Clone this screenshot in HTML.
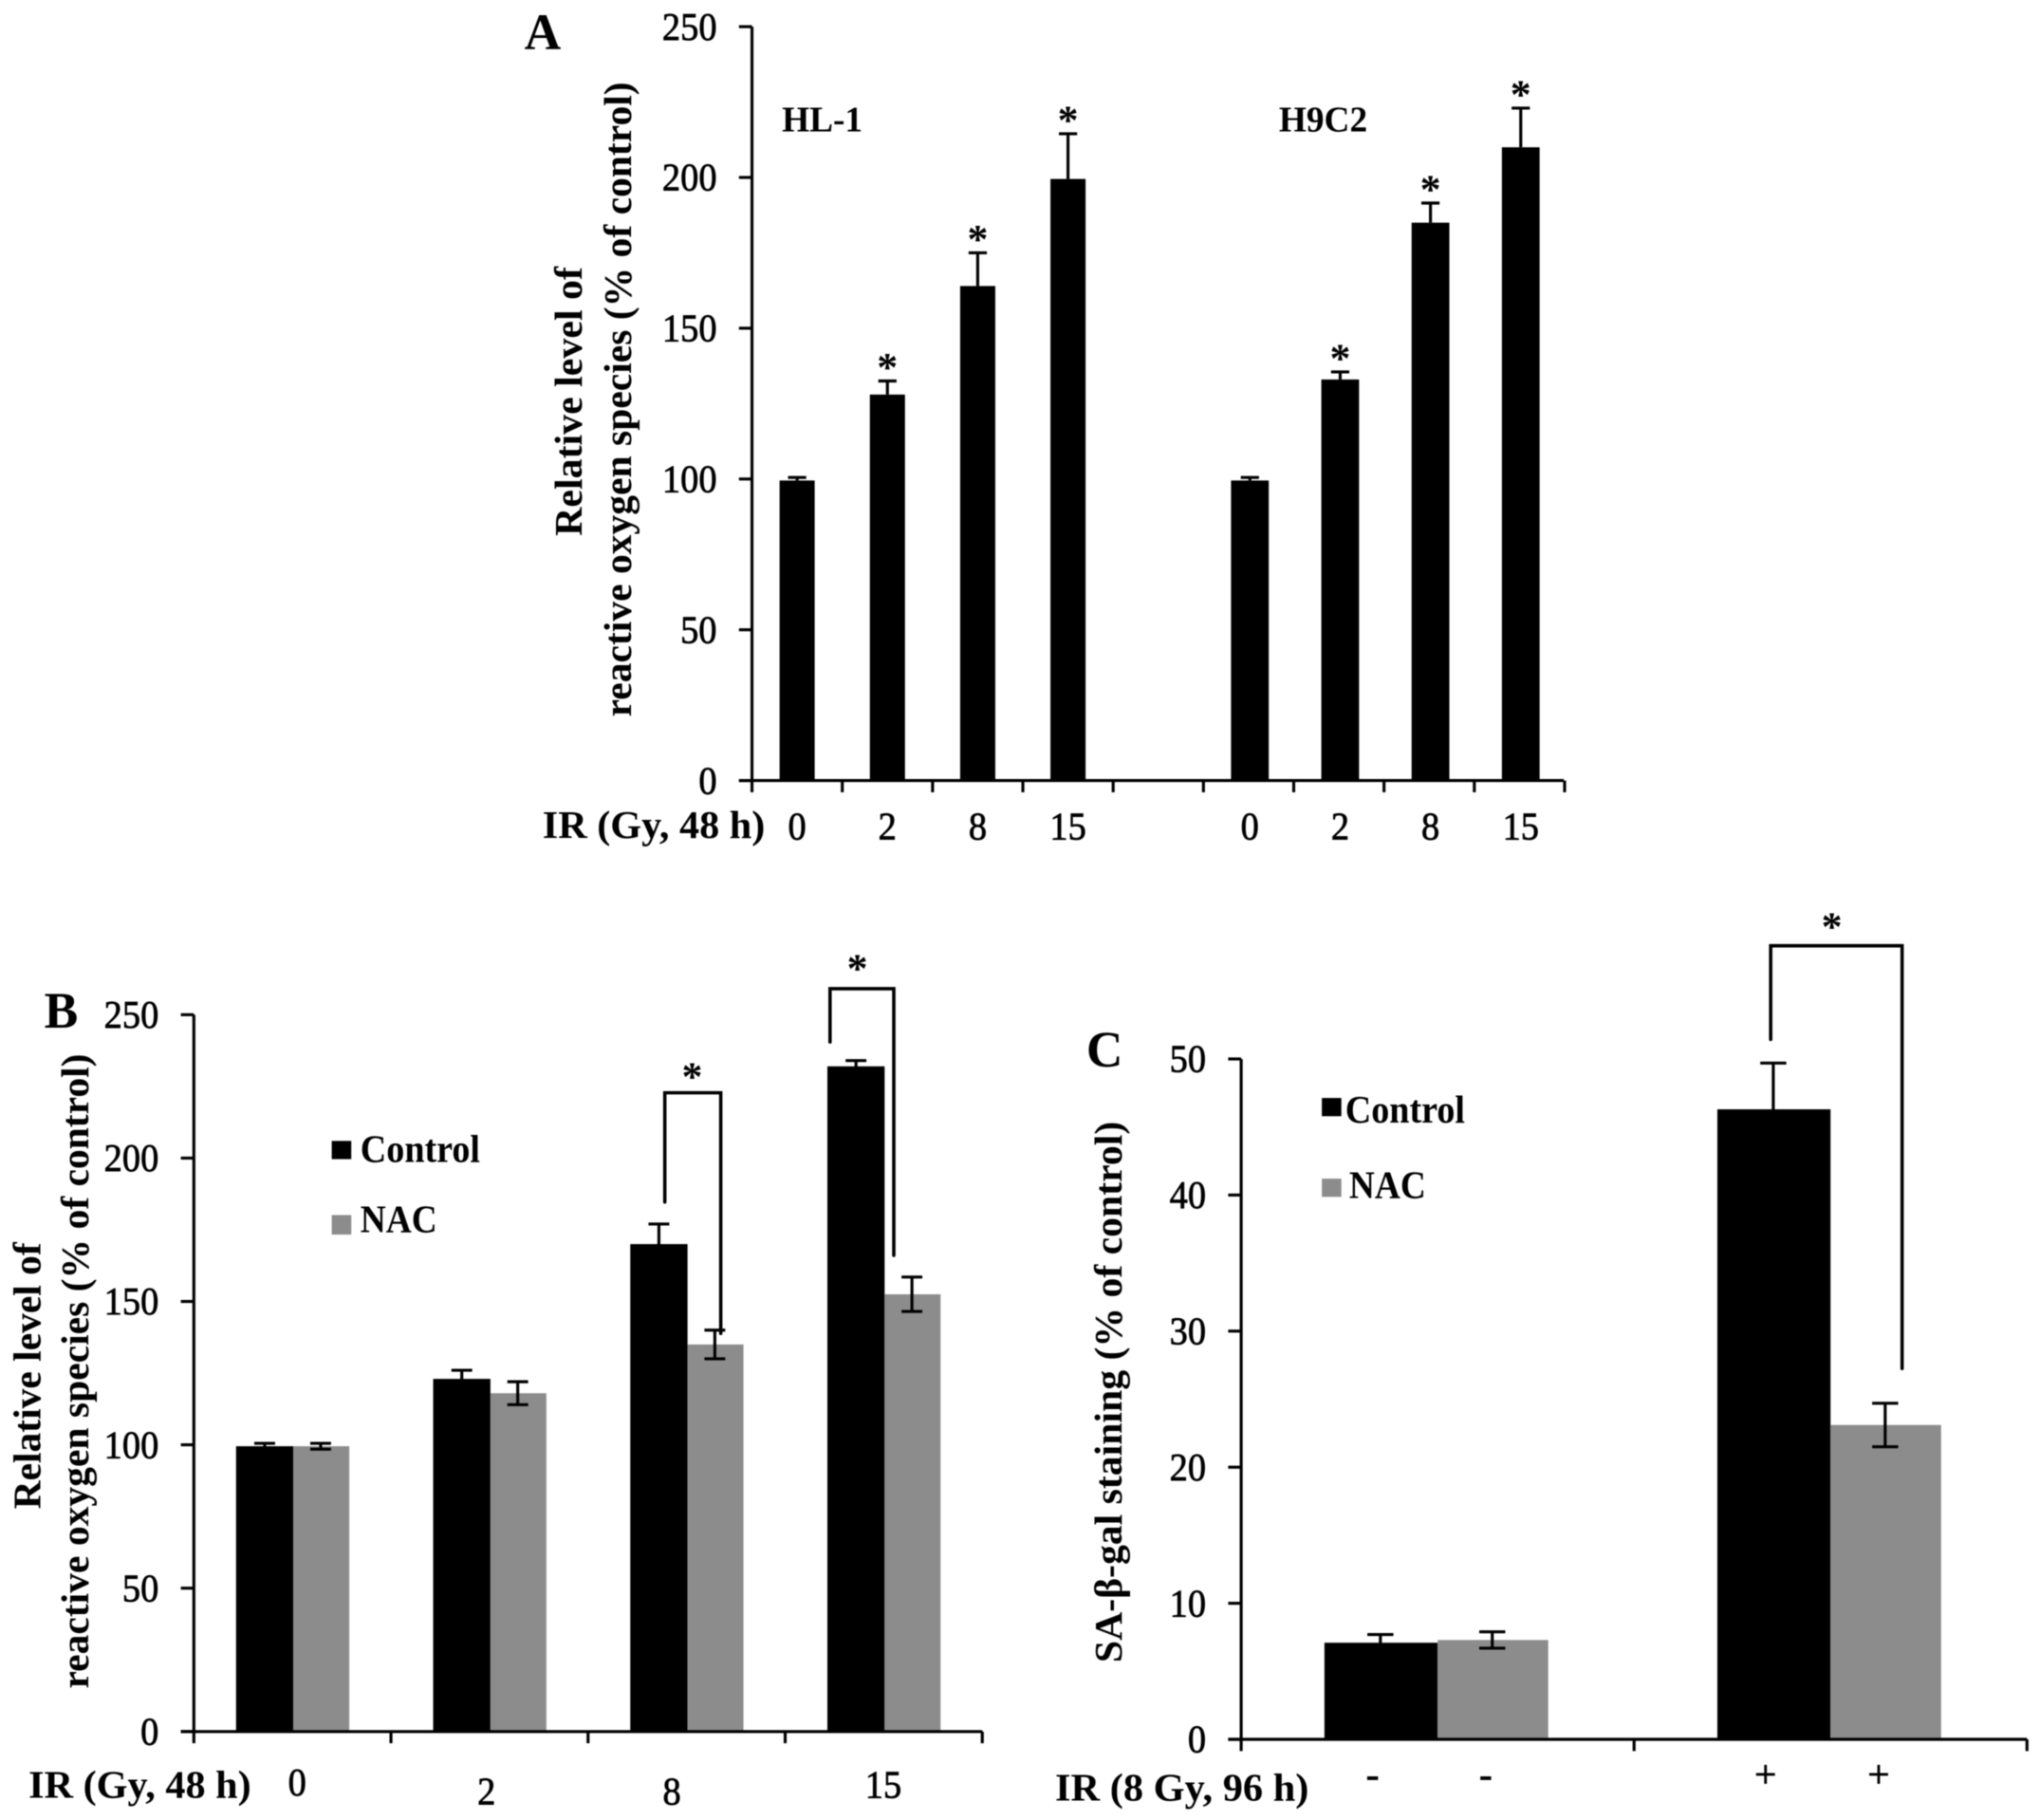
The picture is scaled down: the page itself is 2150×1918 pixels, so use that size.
<!DOCTYPE html>
<html lang="en">
<head>
<meta charset="utf-8">
<title>Relative ROS level and SA-β-gal staining</title>
<style>
html,body{margin:0;padding:0;background:#fff;width:2150px;height:1918px;overflow:hidden}
svg{display:block;filter:blur(0.5px)}
text{font-family:"Liberation Serif",serif;fill:#000}
.b{font-weight:bold}
.t{font-size:30px;stroke:#000;stroke-width:.55px}
.l{font-size:30px;font-weight:bold}
.s{font-size:28px;font-weight:bold}
.k{font-size:32px;font-weight:bold}
</style>
</head>
<body>
<svg id="fig" xmlns="http://www.w3.org/2000/svg" width="2150" height="1918" viewBox="0 0 1568 1399" preserveAspectRatio="none">
  <g id="panel-a">
    <text class="b" x="403" y="38" font-size="39">A</text>
    <text class="s" x="601" y="101" textLength="62" lengthAdjust="spacingAndGlyphs">HL-1</text>
    <text class="s" x="983" y="101" textLength="68" lengthAdjust="spacingAndGlyphs">H9C2</text>
    <text class="l" transform="translate(447,412) rotate(-90)" textLength="207" lengthAdjust="spacingAndGlyphs">Relative level of</text>
    <text class="l" transform="translate(485,551) rotate(-90)" textLength="488" lengthAdjust="spacingAndGlyphs">reactive oxygen species (% of control)</text>
    <text class="l" x="417" y="644" textLength="171" lengthAdjust="spacingAndGlyphs">IR (Gy, 48 h)</text>
  </g>
  <g id="panel-b">
    <text class="b" x="34" y="790" font-size="39">B</text>
    <text class="l" transform="translate(31,1160) rotate(-90)" textLength="205" lengthAdjust="spacingAndGlyphs">Relative level of</text>
    <text class="l" transform="translate(68,1298) rotate(-90)" textLength="488" lengthAdjust="spacingAndGlyphs">reactive oxygen species (% of control)</text>
    <text class="l" x="22" y="1382" textLength="171" lengthAdjust="spacingAndGlyphs">IR (Gy, 48 h)</text>
    <rect x="255" y="877" width="15" height="14" fill="#000"/>
    <text class="l" x="277" y="893" textLength="92" lengthAdjust="spacingAndGlyphs">Control</text>
    <rect x="255" y="934" width="15" height="15" fill="#8c8c8c"/>
    <text class="l" x="277" y="947" textLength="59" lengthAdjust="spacingAndGlyphs">NAC</text>
  </g>
  <g id="panel-c">
    <text class="b" x="835" y="820" font-size="39">C</text>
    <text class="l" transform="translate(862,1278) rotate(-90)" textLength="416" lengthAdjust="spacingAndGlyphs">SA-β-gal staining (% of control)</text>
    <text class="l" x="811" y="1384" textLength="195" lengthAdjust="spacingAndGlyphs">IR (8 Gy, 96 h)</text>
    <rect x="1016" y="844" width="15" height="14" fill="#000"/>
    <text class="l" x="1034" y="863" textLength="92" lengthAdjust="spacingAndGlyphs">Control</text>
    <rect x="1016" y="906" width="15" height="14" fill="#8c8c8c"/>
    <text class="l" x="1037" y="921" textLength="59" lengthAdjust="spacingAndGlyphs">NAC</text>
  </g>
</svg>
<script>
// ---- Data ----
const aCategories = ['0', '2', '8', '15', '', '0', '2', '8', '15'];
const aValues = [99.5, 128, 164, 199.5, null, 99.5, 133, 185, 210];
const aErrors = [1, 4.5, 11, 15, null, 1, 2.5, 6.5, 13];
const aStars = [false, true, true, true, false, false, true, true, true];
const aTicks = [0, 50, 100, 150, 200, 250];

const bCategories = ['0', '2', '8', '15'];
const bControl = [99.5, 123, 170, 232];
const bControlErr = [1, 3, 7, 2];
const bNac = [99.5, 118, 135, 152.5];
const bNacErr = [1, 4, 5, 6];
const bTicks = [0, 50, 100, 150, 200, 250];

const cCategories = ['-', '+'];
const cControl = [7.1, 46.3];
const cControlErr = [0.6, 3.4];
const cNac = [7.3, 23.1];
const cNacErr = [0.6, 1.6];
const cTicks = [0, 10, 20, 30, 40, 50];

// ---- Drawing helpers ----
const NS = 'http://www.w3.org/2000/svg';
const STROKE = 2.3;
function line(p, x1, y1, x2, y2, w) {
  const e = document.createElementNS(NS, 'line');
  e.setAttribute('x1', x1); e.setAttribute('y1', y1);
  e.setAttribute('x2', x2); e.setAttribute('y2', y2);
  e.setAttribute('stroke', '#000');
  e.setAttribute('stroke-width', w || STROKE);
  p.appendChild(e);
  return e;
}
function rect(p, x, y, w, h, fill) {
  const e = document.createElementNS(NS, 'rect');
  e.setAttribute('x', x); e.setAttribute('y', y);
  e.setAttribute('width', w); e.setAttribute('height', h);
  e.setAttribute('fill', fill);
  p.appendChild(e);
  return e;
}
function label(p, x, y, s, anchor, cls, charWidth) {
  const e = document.createElementNS(NS, 'text');
  e.setAttribute('x', x); e.setAttribute('y', y);
  e.setAttribute('text-anchor', anchor || 'middle');
  e.setAttribute('class', cls || 't');
  if (charWidth) {
    e.setAttribute('textLength', s.length * charWidth);
    e.setAttribute('lengthAdjust', 'spacingAndGlyphs');
  }
  e.textContent = s;
  p.appendChild(e);
  return e;
}
function axes(p, x0, x1, y, ticks, step) {
  const v = line(p, x0, y(ticks[ticks.length - 1]), x0, y(0));
  
  
  const h = line(p, x0 - 10, y(0), x1, y(0));
  
  
  ticks.forEach(t => {
    const m = line(p, x0 - 10, y(t), x0, y(t));
    
    
    const l = label(p, x0 - 27, y(t) + 10, String(t), 'end', 't', 14);
    
    
  });
  for (let x = x0; x <= x1 + 1; x += step) {
    const m = line(p, x, y(0), x, y(0) + 9);
    
    
  }
}
function errorBar(p, cx, yTop, yBottom, capW) {
  const g = document.createElementNS(NS, 'g');
  
  
  line(g, cx, yTop, cx, yBottom);
  line(g, cx - capW / 2, yTop, cx + capW / 2, yTop);
  line(g, cx - capW / 2, yBottom, cx + capW / 2, yBottom);
  p.appendChild(g);
}
function star(p, x, yc) {
  const s = label(p, x, yc + 14, '*', 'middle', 'k');
  
  
}
function bracket(p, xL, xR, yTop, yLeft, yRight) {
  const e = document.createElementNS(NS, 'path');
  e.setAttribute('d', 'M' + xL + ' ' + yLeft + 'V' + yTop + 'H' + xR + 'V' + yRight);
  e.setAttribute('fill', 'none');
  e.setAttribute('stroke', '#000');
  e.setAttribute('stroke-width', 2.6);
  e.setAttribute('stroke-linecap', 'round');
  
  
  p.appendChild(e);
}

// ---- Panel A ----
(function () {
  const p = document.getElementById('panel-a');
  const x0 = 578, step = 69.4, y0 = 600, yMax = 20.5;
  const y = v => y0 - v * (y0 - yMax) / 250;
  const cx = i => x0 + (i + 0.5) * step + (i > 4 ? 1 : 0);
  aValues.forEach((v, i) => {
    if (v === null) return;
    const w = i < 4 ? 27 : 29;
    const b = rect(p, cx(i) - w / 2, y(v), w, y(0) - y(v), '#000');
    
    
    const top = y(v + aErrors[i]);
    const c = document.createElementNS(NS, 'g');
    
    
    line(c, cx(i), top, cx(i), y(v));
    line(c, cx(i) - 7, top, cx(i) + 7, top);
    p.appendChild(c);
    if (aStars[i]) star(p, cx(i), top - 14);
    const t = label(p, cx(i), 645, aCategories[i], 'middle', 't', 14);
    
    
  });
  axes(p, x0, 1202, y, aTicks, step);
})();

// ---- Panel B ----
(function () {
  const p = document.getElementById('panel-b');
  const x0 = 149, step = 151.5, y0 = 1331, yMax = 780;
  const y = v => y0 - v * (y0 - yMax) / 250;
  const cx = i => x0 + (i + 0.5) * step + 0.7;
  const labelBaseline = [1380, 1387, 1387, 1382];
  const labelShift = [3, -3, -12, -1];
  bCategories.forEach((c, i) => {
    const k = rect(p, cx(i) - 44, y(bControl[i]), 44, y(0) - y(bControl[i]), '#000');
    
    
    const n = rect(p, cx(i), y(bNac[i]), 43, y(0) - y(bNac[i]), '#8c8c8c');
    
    
    errorBar(p, cx(i) - 22, y(bControl[i] + bControlErr[i]), y(bControl[i] - bControlErr[i]), 16);
    errorBar(p, cx(i) + 21, y(bNac[i] + bNacErr[i]), y(bNac[i] - bNacErr[i]), 16);
    const t = label(p, cx(i) + labelShift[i], labelBaseline[i], c, 'middle', 't', 14);
    
    
  });
  axes(p, x0, 755, y, bTicks, step);
  bracket(p, 511, 554, 840, 924, 1025);
  star(p, 532, 824);
  bracket(p, 638, 687, 760, 801, 965);
  star(p, 659, 741);
})();

// ---- Panel C ----
(function () {
  const p = document.getElementById('panel-c');
  const x0 = 954, step = 302, y0 = 1337, yMax = 814;
  const y = v => y0 - v * (y0 - yMax) / 50;
  const cx = i => x0 + (i + 0.5) * step;
  cCategories.forEach((c, i) => {
    const k = rect(p, cx(i) - 87, y(cControl[i]), 87, y(0) - y(cControl[i]), '#000');
    
    
    const n = rect(p, cx(i), y(cNac[i]), 85, y(0) - y(cNac[i]), '#8c8c8c');
    
    
    errorBar(p, cx(i) - 44, y(cControl[i] + cControlErr[i]), y(cControl[i] - cControlErr[i]), 20);
    errorBar(p, cx(i) + 42, y(cNac[i] + cNacErr[i]), y(cNac[i] - cNacErr[i]), 20);
    const t1 = label(p, cx(i) - 50, 1374, c);
    
    
    const t2 = label(p, cx(i) + 37, 1374, c);
    
    
  });
  axes(p, x0, 1558, y, cTicks, step);
  bracket(p, 1361, 1462, 727, 799, 1052);
  star(p, 1408, 709);
})();
</script>
</body>
</html>
